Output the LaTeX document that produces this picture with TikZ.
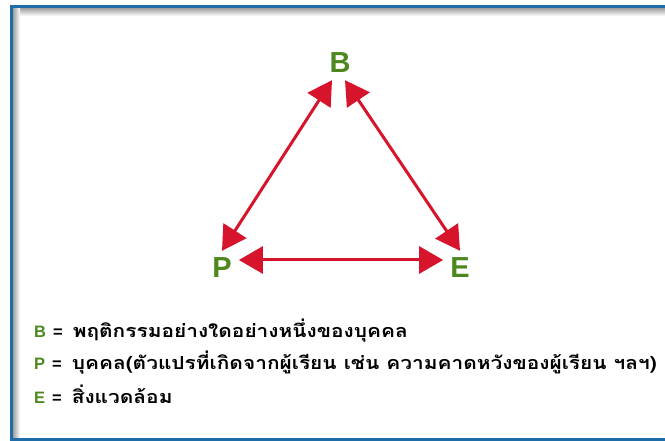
\documentclass[tikz,border=0pt]{standalone}
\usepackage{fontspec}
\setmainfont{Liberation Sans}
\newfontfamily\thaifont[Script=Thai,FakeStretch=1.16]{Loma}
\usetikzlibrary{arrows.meta}
\definecolor{frameblue}{RGB}{30,108,168}
\definecolor{arrowred}{RGB}{214,20,44}
\definecolor{lettergreen}{RGB}{76,136,30}
\newcommand\thaitext[1]{{\fontsize{18}{18}\thaifont #1}}

\begin{document}
\begin{tikzpicture}[x=1pt,y=-1pt,
    letter/.style={text=lettergreen, inner sep=7pt, font=\fontsize{29}{29}\selectfont\bfseries},
    link/.style={line width=3pt, color=arrowred, {Triangle[length=24pt,width=27pt]}-{Triangle[length=24pt,width=27pt]}},
    legend/.style={anchor=west, inner sep=0pt, font=\fontsize{16.5}{16}\selectfont\bfseries}]
    \useasboundingbox (0,0) rectangle (665,441);
    % frame with shadow
    \shade[top color=gray!75, bottom color=white] (13,8) rectangle (665,16);
    \shade[left color=gray!75, right color=white] (13,8) rectangle (20,438);
    \draw[line width=3pt, color=frameblue] (665,6.5) -- (11.5,6.5) -- (11.5,439.5) -- (665,439.5);
    % letters
    \node[letter] (B) at (340,63) {B};
    \node[letter] (P) at (222,268) {P};
    \node[letter] (E) at (460,268) {E};
    \draw[link] ([xshift=-8pt]B.south) -- (P.north);
    \draw[link] ([xshift=5pt]B.south) -- (E.north);
    \draw[link] ([yshift=8pt]P.east) -- ([yshift=8pt]E.west);
    % legend
    \node[legend] (lb) at (34,331) {\textcolor{lettergreen}{B}\hspace{7pt}=\hspace{10pt}\thaitext{พฤติกรรมอย่างใดอย่างหนึ่งของบุคคล}};
    \node[legend] (lp) at (34,362.5) {\textcolor{lettergreen}{P}\hspace{7pt}=\hspace{10pt}\thaitext{บุคคล(ตัวแปรที่เกิดจากผู้เรียน เช่น ความคาดหวังของผู้เรียน ฯลฯ)}};
    \node[legend] (le) at (34,394) {\textcolor{lettergreen}{E}\hspace{7pt}=\hspace{10pt}\thaitext{สิ่งแวดล้อม}};
\end{tikzpicture}
\end{document}
